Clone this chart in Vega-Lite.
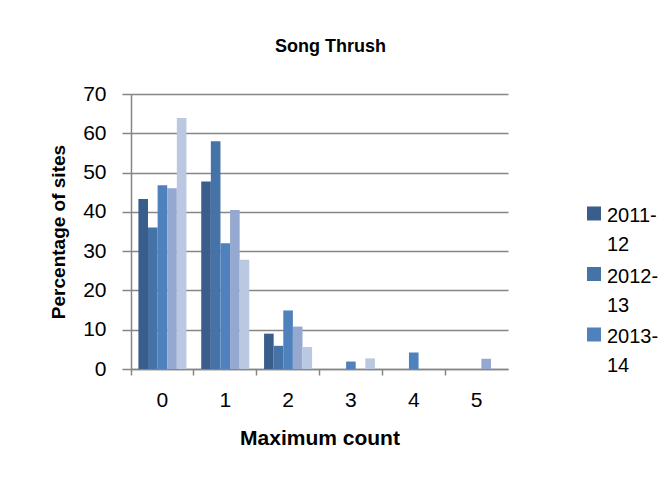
{
  "$schema": "https://vega.github.io/schema/vega-lite/v6.json",
  "autosize": {"type": "none"},
  "padding": {"left": 131, "top": 94, "right": 155, "bottom": 109},
  "width": 377,
  "height": 275,
  "background": "white",
  "title": {
    "text": "Song Thrush",
    "font": "Liberation Sans",
    "fontSize": 18,
    "fontWeight": "bold",
    "color": "#000000",
    "anchor": "middle",
    "offset": 27,
    "dx": 11
  },
  "data": {
    "values": [
      {"count": "0", "season": "2011-12", "pct": 43.3},
      {"count": "0", "season": "2012-13", "pct": 36.0},
      {"count": "0", "season": "2013-14", "pct": 46.8},
      {"count": "0", "season": "2014-15", "pct": 46.0},
      {"count": "0", "season": "2015-16", "pct": 63.9},
      {"count": "1", "season": "2011-12", "pct": 47.7},
      {"count": "1", "season": "2012-13", "pct": 58.0},
      {"count": "1", "season": "2013-14", "pct": 32.0},
      {"count": "1", "season": "2014-15", "pct": 40.5},
      {"count": "1", "season": "2015-16", "pct": 27.8},
      {"count": "2", "season": "2011-12", "pct": 9.0},
      {"count": "2", "season": "2012-13", "pct": 5.9},
      {"count": "2", "season": "2013-14", "pct": 14.9},
      {"count": "2", "season": "2014-15", "pct": 10.8},
      {"count": "2", "season": "2015-16", "pct": 5.6},
      {"count": "3", "season": "2011-12", "pct": 0},
      {"count": "3", "season": "2012-13", "pct": 0},
      {"count": "3", "season": "2013-14", "pct": 1.9},
      {"count": "3", "season": "2014-15", "pct": 0},
      {"count": "3", "season": "2015-16", "pct": 2.7},
      {"count": "4", "season": "2011-12", "pct": 0},
      {"count": "4", "season": "2012-13", "pct": 0},
      {"count": "4", "season": "2013-14", "pct": 4.2},
      {"count": "4", "season": "2014-15", "pct": 0},
      {"count": "4", "season": "2015-16", "pct": 0},
      {"count": "5", "season": "2011-12", "pct": 0},
      {"count": "5", "season": "2012-13", "pct": 0},
      {"count": "5", "season": "2013-14", "pct": 0},
      {"count": "5", "season": "2014-15", "pct": 2.6},
      {"count": "5", "season": "2015-16", "pct": 0}
    ]
  },
  "mark": {"type": "bar"},
  "encoding": {
    "x": {
      "field": "count",
      "type": "nominal",
      "scale": {"paddingInner": 0, "paddingOuter": 0},
      "axis": {
        "title": "Maximum count",
        "labelAngle": 0,
        "bandPosition": 0,
        "labelPadding": 14,
        "tickSize": 6,
        "titlePadding": 17,
        "grid": false
      }
    },
    "xOffset": {
      "field": "season",
      "type": "nominal",
      "sort": ["2011-12", "2012-13", "2013-14", "2014-15", "2015-16"],
      "scale": {"paddingInner": 0, "paddingOuter": 0.77}
    },
    "y": {
      "field": "pct",
      "type": "quantitative",
      "scale": {"domain": [0, 70], "nice": false},
      "axis": {
        "title": "Percentage of sites",
        "values": [0, 10, 20, 30, 40, 50, 60, 70],
        "tickSize": 9,
        "labelPadding": 16,
        "titlePadding": 14,
        "titleFontSize": 19,
        "grid": true
      }
    },
    "color": {
      "field": "season",
      "type": "nominal",
      "sort": ["2011-12", "2012-13", "2013-14", "2014-15", "2015-16"],
      "scale": {
        "domain": ["2011-12", "2012-13", "2013-14", "2014-15", "2015-16"],
        "range": ["#3A5E8C", "#4572A7", "#4F81BD", "#95A9D0", "#BAC8E2"]
      },
      "legend": {
        "title": null,
        "values": ["2011-12", "2012-13", "2013-14"],
        "orient": "none",
        "legendX": 453,
        "legendY": 102,
        "symbolType": "M-1,0.07H1V2.07H-1Z",
        "symbolSize": 196,
        "symbolStrokeWidth": 0,
        "labelExpr": "[slice(datum.label, 0, 5), slice(datum.label, 5)]",
        "labelBaseline": "top",
        "labelOffset": 3,
        "rowPadding": 1.5,
        "padding": 0
      }
    }
  },
  "config": {
    "font": "Liberation Sans",
    "view": {"stroke": null},
    "style": {"guide-label": {"lineHeight": 29}},
    "axis": {
      "labelFont": "Liberation Sans",
      "labelFontSize": 21,
      "labelColor": "#000000",
      "titleFont": "Liberation Sans",
      "titleFontSize": 21,
      "titleFontWeight": "bold",
      "titleColor": "#000000",
      "domainColor": "#868686",
      "tickColor": "#868686",
      "gridColor": "#868686",
      "domainWidth": 1.5,
      "tickWidth": 1.5,
      "gridWidth": 1.5
    },
    "legend": {
      "labelFont": "Liberation Sans",
      "labelFontSize": 20,
      "labelColor": "#000000",
      "labelLimit": 200
    }
  }
}
